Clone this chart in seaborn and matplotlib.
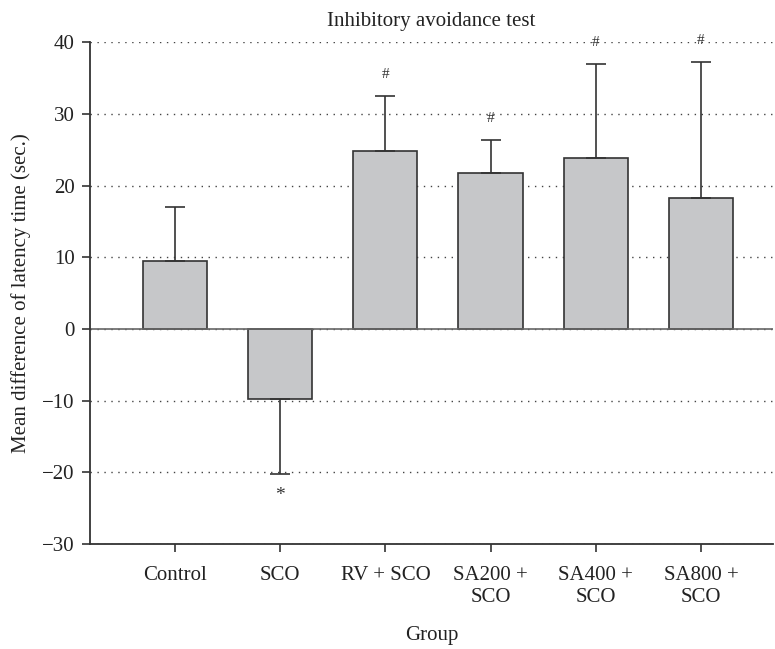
import pandas as pd
import matplotlib.pyplot as plt
import seaborn as sns

groups = ['Control', 'SCO', 'RV + SCO', 'SA200 +\nSCO', 'SA400 +\nSCO', 'SA800 +\nSCO']
means = [9.4, -9.75, 24.85, 21.8, 23.9, 18.2]
errors = [7.6, 10.5, 7.65, 4.5, 13.0, 19.0]
marks = ['', '*', '#', '#', '#', '#']

df = pd.DataFrame({'group': groups, 'mean': means})

sns.set_style('ticks')
plt.rcParams['font.family'] = ['Liberation Serif', 'DejaVu Serif']

fig = plt.figure(figsize=(7.75, 6.49), dpi=100)
ax = fig.add_axes([0.116, 0.162, 0.882, 0.773])

ax.grid(axis='y', linestyle=(0, (1, 4)), color='#444444', linewidth=1.0)
ax.set_axisbelow(True)

sns.barplot(data=df, x='group', y='mean', color='#c6c7c9', edgecolor='#333333',
            linewidth=1.2, width=0.61, saturation=1, ax=ax)

# one-sided error bars, away from zero
lower = [e if m < 0 else 0 for m, e in zip(means, errors)]
upper = [e if m >= 0 else 0 for m, e in zip(means, errors)]
ax.errorbar(range(len(groups)), means, yerr=[lower, upper], fmt='none',
            ecolor='#333333', elinewidth=1.2, capsize=7, capthick=1.2)

for i, (m, e, s) in enumerate(zip(means, errors, marks)):
    if not s:
        continue
    if m >= 0:
        ax.text(i, m + e + 3.0, s, ha='center', va='center', fontsize=11, color='#333333')
    else:
        ax.text(i, m - e - 3.0, s, ha='center', va='center', fontsize=14, color='#333333')

ax.axhline(0, color='#666666', linewidth=1.2, zorder=1.5)

ax.set_ylim(-30, 40)
ax.set_yticks([-30, -20, -10, 0, 10, 20, 30, 40])
ax.set_yticklabels(['\u221230', '\u221220', '\u221210', '0', '10', '20', '30', '40'])
ax.set_xlim(-0.81, 5.69)

ax.set_title('Inhibitory avoidance test', fontsize=15, pad=12, color='#222222')
ax.set_xlabel('Group', fontsize=15, labelpad=14, color='#222222')
ax.set_ylabel('Mean difference of latency time (sec.)', fontsize=15, labelpad=8, color='#222222')
ax.tick_params(axis='both', labelsize=15, colors='#333333', labelcolor='#222222',
               length=6, width=1.2)
ax.tick_params(axis='x', pad=10)
ax.tick_params(axis='y', pad=5)

for side in ['top', 'right']:
    ax.spines[side].set_visible(False)
for side in ['left', 'bottom']:
    ax.spines[side].set_color('#333333')
    ax.spines[side].set_linewidth(1.3)

plt.savefig('out.png', dpi=100)
